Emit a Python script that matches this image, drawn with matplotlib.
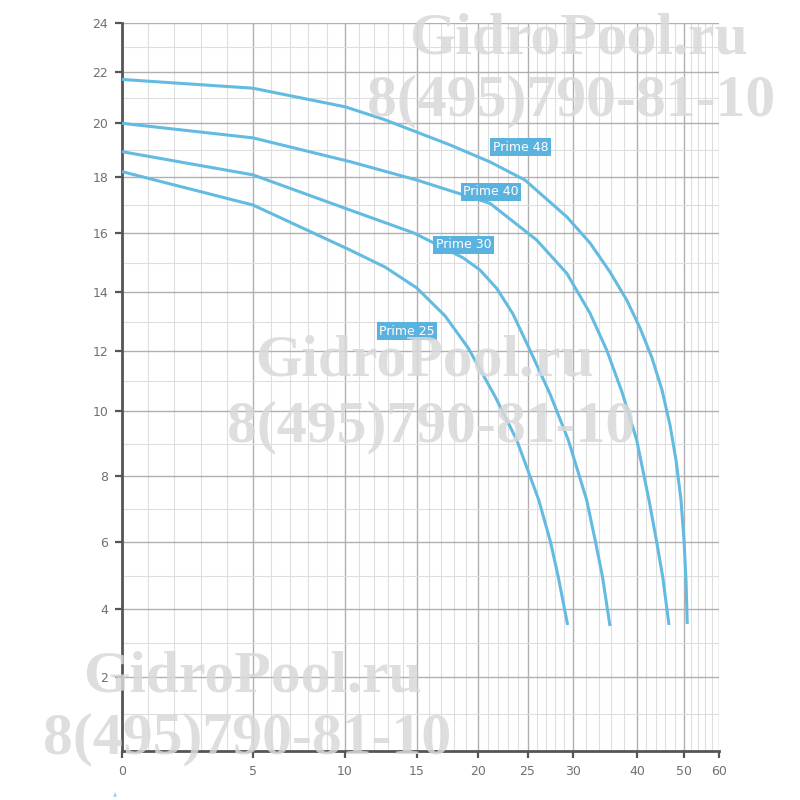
import numpy as np
import matplotlib
matplotlib.use('Agg')
import matplotlib.pyplot as plt

# --- данные ---
names = ['Prime 48', 'Prime 40', 'Prime 30', 'Prime 25']

q_48 = [0, 5, 10, 12.7, 17.7, 21.21, 24.75, 29.31, 32.66, 35.78, 38.39, 40.64, 43.19,
        45.32, 47.02, 48.3, 49.36, 50.0, 50.57, 50.94]
h_48 = [21.7, 21.36, 20.64, 20.15, 19.2, 18.57, 17.9, 16.59, 15.67, 14.68, 13.73, 12.78, 11.77,
        10.7, 9.57, 8.49, 7.27, 6.06, 4.87, 3.56]

q_40 = [0, 5, 10.35, 15, 21.21, 26.01, 29.31, 32.66, 35.27, 37.66, 39.95, 42.55, 44.19, 45.47, 46.81]
h_40 = [20.0, 19.46, 18.58, 17.9, 17.07, 15.77, 14.64, 13.28, 12.03, 10.63, 9.11, 7.27, 6.0, 4.96, 3.53]

q_30 = [0, 5, 10.35, 14.79, 18.8, 20.2, 21.92, 23.54, 25.27, 27.47, 29.48, 32.14, 33.52, 34.61, 35.78]
h_30 = [18.95, 18.09, 16.83, 16.01, 15.16, 14.75, 14.11, 13.25, 12.03, 10.57, 9.11, 7.27, 6.0, 4.96, 3.5]

q_25 = [0, 5, 10.35, 12.78, 14.98, 17.3, 19.2, 21.7, 23.91, 26.24, 27.53, 28.38, 29.41]
h_25 = [18.21, 17.01, 15.43, 14.85, 14.14, 13.19, 12.1, 10.5, 9.11, 7.27, 6.0, 4.96, 3.53]

# где стоят подписи кривых
label_q = [24.3, 21.3, 18.8, 14.3]
label_h = [19.12, 17.48, 15.61, 12.67]

x_ticks = [0, 5, 10, 15, 20, 25, 30, 40, 50, 60]
y_ticks = [0, 2, 4, 6, 8, 10, 12, 14, 16, 18, 20, 22, 24]

# нелинейная сетка оригинала: калибровка осей (px от начала оси)
x_cal = [0, 131, 223, 295, 356, 405.5, 451, 515, 562, 597]
y_cal = [0, 74, 142, 209, 275, 340, 400, 459, 517.7, 573.7, 627.7, 679.3, 728.3]


def fx(v):
    return np.interp(v, x_ticks, x_cal)


def fx_inv(p):
    return np.interp(p, x_cal, x_ticks)


def fy(v):
    return np.interp(v, y_ticks, y_cal)


def fy_inv(p):
    return np.interp(p, y_cal, y_ticks)


line_color = '#64bbe1'
box_color = '#5ab3df'

fig = plt.figure(figsize=(8, 8), dpi=100)
ax = fig.add_axes([122 / 800, 1 - 751 / 800, 597 / 800, 728.3 / 800])
ax.set_xscale('function', functions=(fx, fx_inv))
ax.set_yscale('function', functions=(fy, fy_inv))
ax.set_xlim(0, 60)
ax.set_ylim(0, 24)

# сетка
x_minor = [v for v in range(1, 30) if v % 5 != 0] + [32, 34, 36, 38, 42, 44, 46, 48, 52, 54, 56, 58]
y_minor = list(range(1, 24, 2))
ax.set_xticks(x_ticks)
ax.set_xticklabels([str(v) for v in x_ticks])
ax.set_xticks(x_minor, minor=True)
ax.set_yticks(y_ticks[1:])
ax.set_yticklabels([str(v) for v in y_ticks[1:]])
ax.set_yticks(y_minor, minor=True)
ax.grid(which='major', color='#b0b0b0', linewidth=1.0, zorder=0)
ax.grid(which='minor', color='#dedede', linewidth=0.8, zorder=0)
ax.set_axisbelow(True)

for s in ['top', 'right']:
    ax.spines[s].set_visible(False)
for s in ['left', 'bottom']:
    ax.spines[s].set_color('#555555')
    ax.spines[s].set_linewidth(2)
ax.tick_params(which='major', direction='out', length=5, width=1.6, color='#555555',
               labelcolor='#707070', labelsize=9, pad=5)
ax.tick_params(which='minor', length=0)

# водяные знаки
wm = [(579, 40, 'GidroPool.ru'), (571, 101, '8(495)790-81-10'),
      (425, 362, 'GidroPool.ru'), (431, 427, '8(495)790-81-10'),
      (253, 678, 'GidroPool.ru'), (247, 739, '8(495)790-81-10')]
for px, py, t in wm:
    fig.text(px / 800, 1 - py / 800, t, ha='center', va='center', fontsize=43,
             fontweight='bold', family='Liberation Serif', color='#d9d9d9', alpha=0.85, zorder=1)

# кривые
series = [(q_48, h_48), (q_40, h_40), (q_30, h_30), (q_25, h_25)]
for (q, h) in series:
    ax.plot(q, h, color=line_color, linewidth=2.2, solid_joinstyle='round',
            solid_capstyle='butt', zorder=3)

for name, lq, lh in zip(names, label_q, label_h):
    ax.text(lq, lh, name, ha='center', va='center', color='white', fontsize=9, zorder=4,
            bbox=dict(boxstyle='square,pad=0.2', facecolor=box_color, edgecolor='none'))

fig.text(115 / 800, 1 - 795 / 800, '\u25b2', ha='center', va='center', fontsize=4, color='#9ed3ea')

fig.savefig('out.png', dpi=100)
